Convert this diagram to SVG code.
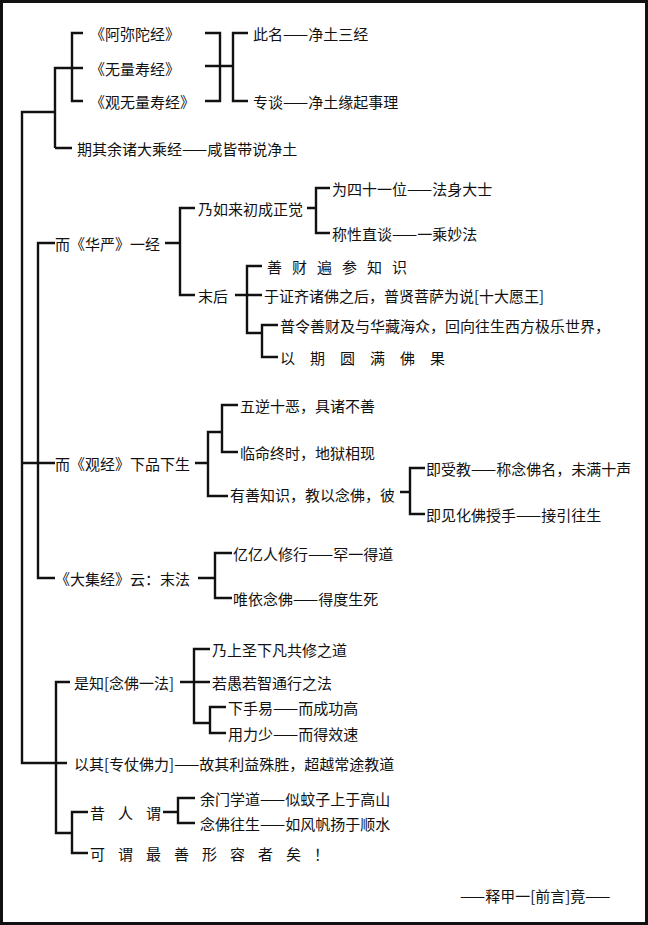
<svg xmlns="http://www.w3.org/2000/svg" width="648" height="925" viewBox="0 0 648 925">
<style>
text{font-family:"Noto Sans CJK SC","Noto Sans CJK JP",sans-serif;font-size:15px;fill:#111;dominant-baseline:central}
.c{fill:none;stroke:#111;stroke-width:2.4}
</style>
<rect x="1.5" y="1.5" width="645" height="922" fill="#fff" stroke="#111" stroke-width="3"/>
<g id="connectors" class="c">
<path d="M55,112H22V763H67"/>
<path d="M55,148V68H72M55,148H72"/>
<path d="M83,33H72V101H83M72,68H83"/>
<path d="M205,33H220V101H205M205,66H233M248,33H233V101H248"/>
<path d="M55,243H38V578H55M22,463H55"/>
<path d="M165,243H180M195,208H180V295H195"/>
<path d="M307,208H316M330,188H316V233H330"/>
<path d="M235,295H262M262,266H247V333H262M247,333H262M278,325H262V357H278"/>
<path d="M195,463H208M222,432H208V496H228M238,405H222V452H238"/>
<path d="M400,492H410M425,468H410V514H425"/>
<path d="M198,578H215M232,553H215V598H232"/>
<path d="M70,682H56V833H72M88,812H72V853H88"/>
<path d="M180,682H210M210,649H194V723H210M226,707H210V733H226"/>
<path d="M163,812H178M195,798H178V823H195"/>
</g>
<g id="n1"><text x="90" y="33">《阿弥陀经》</text></g>
<g id="n2"><text x="90" y="68">《无量寿经》</text></g>
<g id="n3"><text x="90" y="101">《观无量寿经》</text></g>
<g id="n4"><text x="253" y="33">此名——净土三经</text></g>
<g id="n5"><text x="253" y="101">专谈——净土缘起事理</text></g>
<g id="n6"><text x="77" y="148">期其余诸大乘经——咸皆带说净土</text></g>
<g id="n7"><text x="55" y="243">而《华严》一经</text></g>
<g id="n8"><text x="198" y="208">乃如来初成正觉</text></g>
<g id="n9"><text x="332" y="188">为四十一位——法身大士</text></g>
<g id="n10"><text x="332" y="233">称性直谈——一乘妙法</text></g>
<g id="n11"><text x="198" y="295">末后</text></g>
<g id="n12"><text x="267" y="266" letter-spacing="10">善财遍参知识</text></g>
<g id="n13"><text x="264" y="295">于证齐诸佛之后，普贤菩萨为说[十大愿王]</text></g>
<g id="n14"><text x="280" y="325">普令善财及与华藏海众，回向往生西方极乐世界，</text></g>
<g id="n15"><text x="280" y="357" letter-spacing="15">以期圆满佛果</text></g>
<g id="n16"><text x="55" y="463">而《观经》下品下生</text></g>
<g id="n17"><text x="240" y="405">五逆十恶，具诸不善</text></g>
<g id="n18"><text x="240" y="452">临命终时，地狱相现</text></g>
<g id="n19"><text x="230" y="494">有善知识，教以念佛，彼</text></g>
<g id="n20"><text x="426" y="468">即受教——称念佛名，未满十声</text></g>
<g id="n21"><text x="426" y="514">即见化佛授手——接引往生</text></g>
<g id="n22"><text x="55" y="578">《大集经》云：末法</text></g>
<g id="n23"><text x="233" y="553">亿亿人修行——罕一得道</text></g>
<g id="n24"><text x="233" y="598">唯依念佛——得度生死</text></g>
<g id="n25"><text x="74" y="682">是知[念佛一法]</text></g>
<g id="n26"><text x="212" y="649">乃上圣下凡共修之道</text></g>
<g id="n27"><text x="212" y="682">若愚若智通行之法</text></g>
<g id="n28"><text x="228" y="707">下手易——而成功高</text></g>
<g id="n29"><text x="228" y="733">用力少——而得效速</text></g>
<g id="n30"><text x="74" y="763">以其[专仗佛力]——故其利益殊胜，超越常途教道</text></g>
<g id="n31"><text x="90" y="812" letter-spacing="13">昔人谓</text></g>
<g id="n32"><text x="200" y="798">余门学道——似蚊子上于高山</text></g>
<g id="n33"><text x="200" y="823">念佛往生——如风帆扬于顺水</text></g>
<g id="n34"><text x="90" y="853" letter-spacing="13">可谓最善形容者矣！</text></g>
<g id="n35"><text x="460" y="895">——释甲一[前言]竟——</text></g>
</svg>
